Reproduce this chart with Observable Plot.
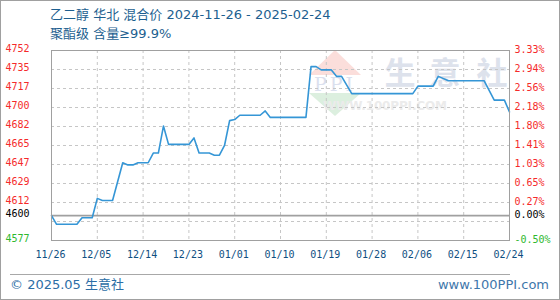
<!DOCTYPE html>
<html>
<head>
<meta charset="utf-8">
<script src="https://cdn.jsdelivr.net/npm/d3@7"></script>
<script src="https://cdn.jsdelivr.net/npm/@observablehq/plot@0.6"></script>
<style>
  body { margin: 0; background: #fff; }
  #chart { position: relative; width: 560px; height: 300px; overflow: hidden;
           font-family: "DejaVu Sans", "Noto Sans CJK SC", sans-serif; }
  #chart svg.main { position: absolute; left: 0; top: 0; }
  .border { position: absolute; inset: 0; border: 1px solid #a0a0a0; box-sizing: border-box; pointer-events: none; }
  .title { position: absolute; left: 50px; font-size: 13px; line-height: 16px; color: #1d5f90; white-space: nowrap; }
  .rule { position: absolute; left: 10px; top: 274px; width: 500px; height: 0; border-top: 1.5px solid #a8a8a8; }
  .foot { position: absolute; top: 277px; font-size: 13px; line-height: 16px; white-space: nowrap; }
</style>
</head>
<body>
<div id="chart">
  <div class="title" style="top:7px">乙二醇 华北 混合价 2024-11-26 - 2025-02-24</div>
  <div class="title" style="top:26px">聚酯级 含量≥99.9%</div>
  <div class="rule"></div>
  <div class="foot" style="left:10px;color:#2c6ea6">© 2025.05 生意社</div>
  <div class="foot" style="right:11px;color:#3f77ab">www.100PPI.com</div>
  <div class="border"></div>
</div>
<script>
// Daily mixed price of ethylene glycol (North China), polyester grade, yuan/ton
const dates = [
  "2024-11-26","2024-11-27","2024-12-01","2024-12-02","2024-12-04","2024-12-05",
  "2024-12-06","2024-12-08","2024-12-10","2024-12-11","2024-12-12","2024-12-13",
  "2024-12-15","2024-12-16","2024-12-17","2024-12-18","2024-12-19","2024-12-23",
  "2024-12-24","2024-12-25","2024-12-27","2024-12-28","2024-12-29","2024-12-30",
  "2024-12-31","2025-01-01","2025-01-02","2025-01-06","2025-01-07","2025-01-08",
  "2025-01-15","2025-01-16","2025-01-17","2025-01-18","2025-01-20","2025-01-21",
  "2025-01-22","2025-01-24","2025-02-05","2025-02-06","2025-02-09","2025-02-10",
  "2025-02-12","2025-02-19","2025-02-21","2025-02-23","2025-02-24"
];
const prices = [
  4600, 4592, 4592, 4598, 4598, 4616,
  4614, 4614, 4649, 4647, 4647, 4649,
  4649, 4658, 4658, 4683, 4666, 4666,
  4672, 4658, 4658, 4656, 4656, 4665,
  4688, 4689, 4693, 4693, 4697, 4691,
  4691, 4738, 4738, 4735, 4735, 4729,
  4729, 4713, 4713, 4720, 4720, 4729,
  4725, 4725, 4707, 4707, 4696
];

// Reference price for the percentage axis (first day)
const basePrice = 4600;

// Gridlines are placed at percentage changes from the base price
const tickPercents = [3.325, 2.9425, 2.56, 2.1775, 1.795, 1.4125, 1.03, 0.6475, 0.265, 0, -0.5];
const leftTickLabels = ["4752","4735","4717","4700","4682","4665","4647","4629","4612","4600","4577"];
const rightTickLabels = ["3.33%","2.94%","2.56%","2.18%","1.80%","1.41%","1.03%","0.65%","0.27%","0.00%","-0.50%"];
const extraGridPercents = [-0.1175];

const xTickDates = ["2024-11-26","2024-12-05","2024-12-14","2024-12-23","2025-01-01",
                    "2025-01-10","2025-01-19","2025-01-28","2025-02-06","2025-02-15","2025-02-24"];
const xTickLabels = ["11/26","12/05","12/14","12/23","01/01","01/10","01/19","01/28","02/06","02/15","02/24"];

const data = dates.map((d, i) => ({date: new Date(d), price: prices[i]}));
const priceAt = p => basePrice * (1 + p / 100);
const pctColor = p => p > 0 ? "#f52a2a" : p < 0 ? "#2eb82e" : "#000000";

const yMin = priceAt(-0.5), yMax = priceAt(3.325);
const gridPrices = tickPercents.concat(extraGridPercents)
  .filter(p => p !== 0 && p > -0.5 && p < 3.325).map(priceAt);
const xTicks = xTickDates.map(d => new Date(d));
const innerXTicks = xTicks.slice(1, -1);

const mono = "DejaVu Sans Mono, monospace";

const plot = Plot.plot({
  width: 560,
  height: 300,
  marginLeft: 51,
  marginRight: 51,
  marginTop: 50,
  marginBottom: 60,
  x: {type: "utc", domain: [xTicks[0], xTicks[xTicks.length - 1]], axis: null},
  y: {domain: [yMin, yMax], axis: null},
  color: {type: "identity"},
  marks: [
    Plot.ruleY(gridPrices, {stroke: "#c6c6c6", strokeDasharray: "3,3"}),
    Plot.ruleX(innerXTicks, {stroke: "#c6c6c6", strokeDasharray: "3,3"}),
    Plot.ruleY([basePrice], {stroke: "#a0a0a0", strokeWidth: 1.6}),
    Plot.line(data, {x: "date", y: "price", stroke: "#3596d6", strokeWidth: 1.6}),
    Plot.frame({stroke: "#a0a0a0"}),
    Plot.text(leftTickLabels, {
      y: (d, i) => priceAt(tickPercents[i]), text: d => d,
      fill: (d, i) => pctColor(tickPercents[i]),
      frameAnchor: "left", textAnchor: "start", dx: -46, dy: -1.5,
      fontFamily: mono, fontSize: 10
    }),
    Plot.text(rightTickLabels, {
      y: (d, i) => priceAt(tickPercents[i]), text: d => d,
      fill: (d, i) => pctColor(tickPercents[i]),
      frameAnchor: "right", textAnchor: "start", dx: 5, dy: -0.5,
      fontFamily: mono, fontSize: 10
    }),
    Plot.text(xTickLabels, {
      x: (d, i) => xTicks[i], text: d => d,
      frameAnchor: "bottom", dy: 17, dx: -1,
      fill: "#0f4f82", fontFamily: mono, fontSize: 10
    })
  ]
});
plot.classList.add("main");

// Faint brand watermark drawn beneath the grid and the price line
const svg = d3.select(plot);
const wm = svg.insert("g", ":first-child").attr("pointer-events", "none");
wm.append("path").attr("d", "M335,50 L309,75 L361,75 Z").attr("fill", "#fbdedb");
wm.append("path").attr("d", "M309,93 L361,93 L335,116 Z").attr("fill", "#dcefdf");
wm.append("text").attr("x", 335).attr("y", 91).attr("text-anchor", "middle")
  .attr("font-family", "DejaVu Serif, serif").attr("font-size", 19).attr("letter-spacing", 3)
  .attr("fill", "#dbe0ee").text("PPI");
[["生", 400], ["意", 445], ["社", 492]].forEach(([ch, cx]) => {
  wm.append("text").attr("x", cx).attr("y", 84).attr("text-anchor", "middle")
    .attr("font-family", "Noto Sans CJK SC, sans-serif").attr("font-size", 31).attr("font-weight", 700)
    .attr("fill", "#dde2ec").text(ch);
});
wm.append("text").attr("x", 385).attr("y", 110).attr("textLength", 124)
  .attr("font-family", "DejaVu Sans, sans-serif").attr("font-size", 12).attr("font-weight", 700)
  .attr("fill", "#ebebeb").text("WWW.100PPI.COM");
// keep the white background behind the watermark
svg.insert("rect", ":first-child").attr("width", 560).attr("height", 300).attr("fill", "#fff");

document.getElementById("chart").insertBefore(plot, document.getElementById("chart").firstChild);
</script>
</body>
</html>
